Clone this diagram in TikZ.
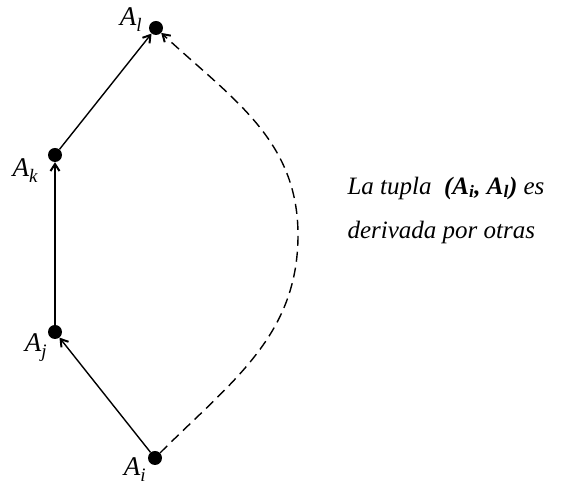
\documentclass[tikz,border=0pt]{standalone}
\usepackage{fontspec}
\setmainfont{Liberation Serif}
\usetikzlibrary{arrows.meta, positioning}
\newcommand{\Asub}[1]{A\raisebox{-6pt}{\fontsize{19}{19}\selectfont #1}}

\begin{document}
\begin{tikzpicture}[
  x=1pt, y=1pt,
  punto/.style={circle, fill=black, inner sep=0pt, minimum size=14pt},
  etiq/.style={font=\fontsize{27}{29}\selectfont\itshape, inner sep=1pt},
  flecha/.style={line width=1.4pt, -{Straight Barb[length=7pt, width=9pt, line width=2pt]}},
  texto/.style={font=\fontsize{25}{44}\selectfont\itshape, align=left},
]
  \useasboundingbox (0,0) rectangle (563,486);

  \node[punto] at (156,458) (al) {};
  \node[punto] at (55,331)  (ak) {};
  \node[punto] at (55,154)  (aj) {};
  \node[punto] at (155,28)  (ai) {};
  \coordinate (curva) at (298,251);

  \node[etiq, left=6pt of al, yshift=8pt] {\Asub{l}};
  \node[etiq, left=9pt of ak, yshift=-16pt] {\Asub{k}};
  \node[etiq, left=0pt of aj, yshift=-16pt] {\Asub{j}};
  \node[etiq, left=1pt of ai, yshift=-12pt] {\Asub{i}};

  \draw[flecha] (ai) -- (aj);
  \draw[flecha] (aj) -- (ak);
  \draw[flecha] (ak) -- (al);
  \draw[flecha, dash pattern=on 10pt off 6pt] (ai) to[out=45, in=-90] (curva) to[out=90, in=-43] (al);

  \node[texto] at (446,276) (nota) {La tupla\ \ \textbf{(A\textsubscript{i}, A\textsubscript{l})} es\\derivada por otras};
\end{tikzpicture}
\end{document}
